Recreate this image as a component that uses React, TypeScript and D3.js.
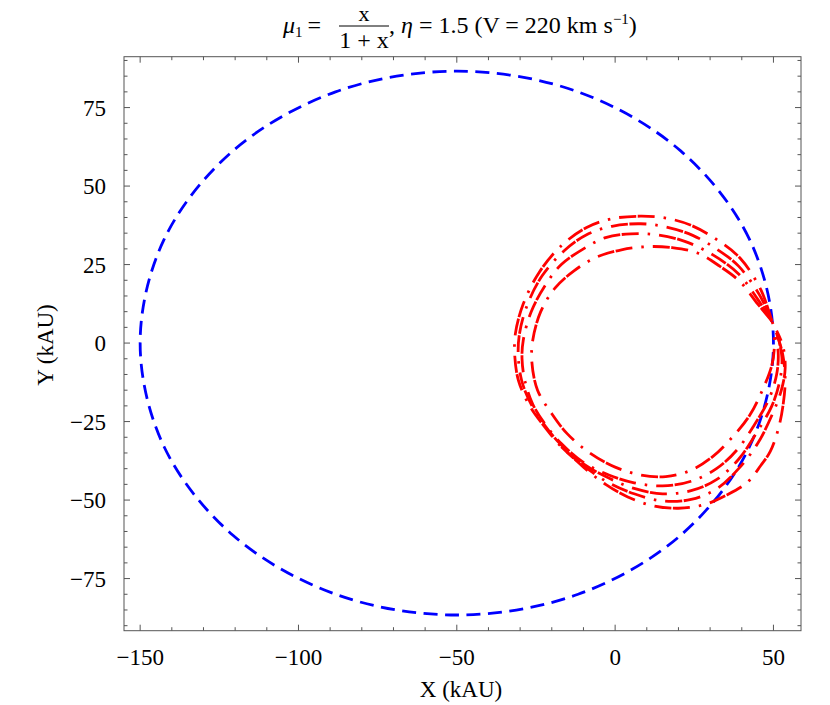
import React from "react";
import * as d3 from "d3";

// axis ticks / labels
const xMajor = [-150, -100, -50, 0, 50];
const yMajor = [-75, -50, -25, 0, 25, 50, 75];

// blue: Kepler orbit
const keplerOrbit: [number, number][] = [
  [50, 0], [42.4, 33.1], [20.7, 61.2], [-11.7, 80], [-50, 86.6], [-88.3, 80],
  [-120.7, 61.2], [-142.4, 33.1], [-150, 0], [-142.4, -33.1], [-120.7, -61.2],
  [-88.3, -80], [-50, -86.6], [-11.7, -80], [20.7, -61.2], [42.4, -33.1],
];

const ringA: [number, number][] = [
  [49.5, 7], [46, 17], [39.5, 27], [32, 33], [24, 37.5], [16, 39.8], [8, 40.4],
  [-1, 39.6], [-9, 36.8], [-17, 31], [-24, 22.5], [-29, 12.5], [-31.5, 3], [-31.7, -4],
  [-30.5, -12], [-27, -20], [-22, -27], [-17, -33], [-10, -39], [-2, -44.5], [6, -48],
  [15, -50.3], [24, -49.8], [32, -46.5], [39, -40], [45, -32], [49.5, -23], [52.5, -15],
  [53.7, -8], [53, -1], [51, 4],
];
const ringB: [number, number][] = [
  [49.5, 7], [45.5, 15.5], [39, 24.5], [32, 30], [24.5, 34.3], [16, 37], [8, 38],
  [-1, 37.2], [-9, 34.5], [-16, 29.5], [-23, 21.5], [-27.8, 12], [-30.2, 3], [-30.6, -4],
  [-29.5, -12], [-26.5, -19.5], [-22, -26.5], [-17, -32.5], [-10, -38.5], [-2, -43],
  [6, -46.3], [15, -48], [24, -47], [32, -43.5], [39, -37], [45, -28], [49.5, -20],
  [52, -12], [52.7, -5], [51.5, 2],
];
const ringC: [number, number][] = [
  [49.5, 7], [45, 14], [39, 22], [31, 28], [22, 32.4], [13, 34.5], [5, 34.8],
  [-3, 33.6], [-10, 30], [-17, 25], [-22, 18.5], [-26.5, 10], [-29, 1], [-29.4, -5],
  [-28.5, -12], [-26, -19.5], [-22, -26], [-17, -32], [-10, -38], [-2, -42], [6, -44.5],
  [15, -45.5], [24, -44], [32, -40], [38.5, -34], [44, -26], [48.5, -18], [51, -10],
  [51.5, -3], [50.5, 3],
];
const ringD: [number, number][] = [
  [49.5, 7], [45, 12.5], [39.5, 19.5], [33, 24.5], [26, 28.7], [18, 30.4], [10, 30.7],
  [2, 29.7], [-6, 27.3], [-13, 23], [-19, 17.5], [-23.5, 10], [-26, 1], [-26.3, -6],
  [-24.5, -15], [-20, -22.5], [-15, -29], [-8, -35], [0, -39.5], [8, -42], [16, -42.5],
  [24, -40.5], [31, -36], [37, -30], [42.5, -23], [46.5, -15], [49.5, -7], [50.3, -1],
  [50, 4],
];
const ringE: [number, number][] = [
  [-17, -33], [-10, -39.5], [-3, -45], [4, -49], [12, -51.8], [20, -52.6], [28, -51.5],
  [35, -48.5], [41.7, -44.4], [46, -39], [49, -34.5], [51.5, -27.5], [53, -20],
  [53.7, -12], [53, -4], [51, 3], [49.5, 7],
];
const redRings = [ringA, ringB, ringC, ringD, ringE];

const W = 830;
const H = 705;
const FONT = "'Liberation Serif', 'Times New Roman', serif";

export default function App() {
  const x = d3.scaleLinear().domain([-155.1, 58.7]).range([124, 801]);
  const y = d3.scaleLinear().domain([-91.6, 91.2]).range([630.7, 56.7]);
  const [x0, x1] = x.range();
  const [y0, y1] = y.range();

  const closed = d3
    .line<[number, number]>()
    .x((d) => x(d[0]))
    .y((d) => y(d[1]))
    .curve(d3.curveCatmullRomClosed.alpha(0.5));
  const open = d3
    .line<[number, number]>()
    .x((d) => x(d[0]))
    .y((d) => y(d[1]))
    .curve(d3.curveCatmullRom.alpha(0.5));

  const xMinor = d3.range(-150, 51, 10).filter((v) => !xMajor.includes(v));
  const yMinor = d3.range(-90, 91, 5).filter((v) => !yMajor.includes(v));
  const frame = "#555";

  return (
    <svg width={W} height={H} style={{ position: "absolute", left: 0, top: 0 }} fontFamily={FONT}>
      <rect width={W} height={H} fill="#fff" />

      {/* title */}
      <g fontSize={24} fill="#000">
        <text x={283} y={33}>
          <tspan fontStyle="italic">μ</tspan>
          <tspan fontSize={15} dy={4}>1</tspan>
          <tspan dy={-4} dx={5}>=</tspan>
        </text>
        <text x={364} y={20.5} fontSize={22} textAnchor="middle">x</text>
        <line x1={339} x2={389} y1={26} y2={26} stroke="#000" strokeWidth={1} />
        <text x={364} y={47.5} textAnchor="middle">1 + x</text>
        <text x={389} y={33}>
          ,{" "}
          <tspan fontStyle="italic">η</tspan>
          {" = 1.5 (V = 220 km s"}
          <tspan fontSize={15} dy={-9}>−1</tspan>
          <tspan dy={9}>)</tspan>
        </text>
      </g>

      {/* curves */}
      <g clipPath="url(#plotclip)">
        <path d={closed(keplerOrbit) ?? ""} fill="none" stroke="#0000ff" strokeWidth={2.8} strokeDasharray="14,7.5" />
        {redRings.map((r, i) => (
          <path
            key={i}
            d={open(r) ?? ""}
            fill="none"
            stroke="#ff0000"
            strokeWidth={2.8}
            strokeDasharray="17,1.5,17,9,2.5,9"
          />
        ))}
      </g>
      <defs>
        <clipPath id="plotclip">
          <rect x={x0} y={y1} width={x1 - x0} height={y0 - y1} />
        </clipPath>
      </defs>

      {/* frame */}
      <rect x={x0} y={y1} width={x1 - x0} height={y0 - y1} fill="none" stroke={frame} strokeWidth={1} />

      {/* x ticks bottom + top */}
      {xMajor.map((v) => (
        <g key={"xM" + v} stroke={frame}>
          <line x1={x(v)} x2={x(v)} y1={y0} y2={y0 - 6} />
          <line x1={x(v)} x2={x(v)} y1={y1} y2={y1 + 6} />
        </g>
      ))}
      {xMinor.map((v) => (
        <g key={"xm" + v} stroke={frame}>
          <line x1={x(v)} x2={x(v)} y1={y0} y2={y0 - 3.5} />
          <line x1={x(v)} x2={x(v)} y1={y1} y2={y1 + 3.5} />
        </g>
      ))}
      {/* y ticks left + right */}
      {yMajor.map((v) => (
        <g key={"yM" + v} stroke={frame}>
          <line x1={x0} x2={x0 + 6} y1={y(v)} y2={y(v)} />
          <line x1={x1} x2={x1 - 6} y1={y(v)} y2={y(v)} />
        </g>
      ))}
      {yMinor.map((v) => (
        <g key={"ym" + v} stroke={frame}>
          <line x1={x0} x2={x0 + 3.5} y1={y(v)} y2={y(v)} />
          <line x1={x1} x2={x1 - 3.5} y1={y(v)} y2={y(v)} />
        </g>
      ))}

      {/* tick labels */}
      <g fontSize={23} fill="#000">
        {xMajor.map((v) => (
          <text key={"xl" + v} x={x(v)} y={665} textAnchor="middle">
            {v < 0 ? "−" + Math.abs(v) : String(v)}
          </text>
        ))}
        {yMajor.map((v) => (
          <text key={"yl" + v} x={106} y={y(v) + 8} textAnchor="end">
            {v < 0 ? "−" + Math.abs(v) : String(v)}
          </text>
        ))}
        <text x={461} y={697} textAnchor="middle">X (kAU)</text>
        <text transform="translate(53,345) rotate(-90)" textAnchor="middle">Y (kAU)</text>
      </g>
    </svg>
  );
}
